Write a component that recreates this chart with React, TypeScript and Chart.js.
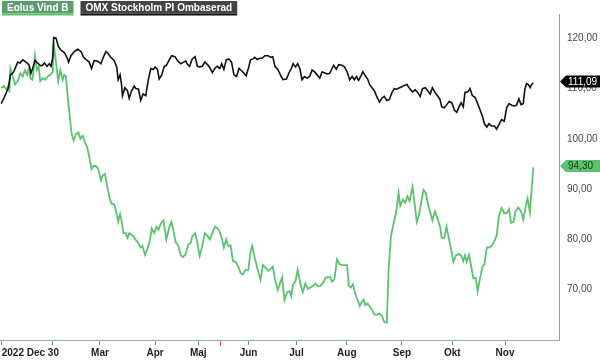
import React, { useEffect, useRef } from "react";
import { Chart, registerables } from "chart.js";

Chart.register(...registerables);

// ---- Data (x = trading-day index counted from 2022-12-30) ----
const seriesNames = ["Eolus Vind B", "OMX Stockholm PI Ombaserad"];

const monthTickDays = [1, 22, 42, 65, 83, 104, 124, 145, 168, 189, 211];
const monthTickLabels = ["2022 Dec 30", "", "Mar", "Apr", "Maj", "Jun", "Jul", "Aug", "Sep", "Okt", "Nov"];
const eventDays = [92.1];
const yTickValues = [70, 80, 90, 100, 110, 120];

const omxDays = [
  0.8, 2.1, 3.8, 4.6, 5.6, 6.3, 7.7, 8.7, 9.8, 10.7, 11.9, 12.5, 13.2, 13.9, 14.9, 16.0, 17.1, 18.1, 18.8, 19.9,
  20.9, 21.6, 22.3, 22.7, 23.7, 24.6, 25.7, 27.1, 28.2, 28.9, 29.9, 31.3, 32.7, 34.1, 35.2, 36.6, 37.5, 38.5, 39.6, 41.0,
  42.4, 43.4, 44.5, 45.4, 46.5, 47.9, 49.0, 49.6, 50.4, 51.0, 51.4, 52.4, 53.5, 54.2, 55.2, 56.3, 57.0, 58.1, 59.0, 60.0,
  61.1, 62.2, 63.2, 64.2, 65.0, 66.0, 66.7, 67.8, 68.8, 69.7, 70.8, 71.9, 73.3, 74.3, 75.7, 76.7, 77.8, 78.5, 79.4, 80.5,
  81.7, 82.6, 83.6, 84.7, 85.8, 86.8, 87.8, 88.9, 89.9, 90.9, 92.0, 92.8, 93.7, 94.7, 95.8, 96.9, 97.9, 99.0, 100.0, 101.1,
  102.1, 103.0, 104.1, 104.8, 105.8, 106.6, 107.6, 108.6, 109.7, 110.8, 112.2, 113.2, 114.1, 115.0, 116.2, 117.6, 118.4, 119.8, 120.8, 121.8,
  122.6, 123.6, 124.5, 125.4, 126.3, 127.3, 128.4, 129.5, 130.5, 131.5, 132.6, 133.7, 134.7, 135.6, 136.8, 137.9, 138.8, 139.5, 140.6, 141.6,
  143.0, 144.0, 145.1, 146.2, 147.2, 148.1, 149.0, 149.9, 150.9, 151.7, 152.7, 153.7, 154.5, 155.5, 156.5, 157.6, 158.7, 159.6, 160.6, 161.7,
  162.8, 163.8, 164.8, 165.9, 167.0, 168.0, 168.9, 170.1, 171.2, 172.4, 173.5, 174.6, 175.6, 176.6, 177.7, 178.8, 179.8, 180.7, 181.8, 183.0,
  183.9, 184.6, 185.7, 186.7, 187.7, 188.8, 189.9, 190.9, 191.8, 192.7, 193.6, 194.3, 195.5, 196.4, 197.4, 198.5, 199.6, 200.6, 201.6, 202.4,
  203.4, 204.3, 205.4, 206.6, 207.5, 208.5, 209.6, 210.7, 211.7, 212.7, 213.8, 214.9, 215.8, 216.8, 217.7, 218.6, 219.3, 220.0, 220.7, 221.5,
  222.1, 222.8,
];
const omxValues = [
  106.98, 108.25, 110.16, 112.7, 113.02, 113.65, 115.24, 115.05, 115.68, 115.37, 114.92, 114.6, 113.02, 113.97, 115.56, 115.05, 114.54, 114.6, 115.05, 114.41,
  114.92, 114.41, 116.19, 120.13, 120.0, 118.42, 117.59, 117.15, 116.19, 115.24, 116.51, 117.34, 117.78, 117.34, 116.19, 115.56, 115.24, 113.97, 115.56, 115.43,
  114.92, 116.19, 117.34, 116.95, 116.19, 115.56, 114.29, 111.74, 112.7, 110.79, 108.57, 110.16, 109.52, 108.06, 109.52, 110.47, 109.97, 109.84, 107.62, 108.89,
  108.57, 111.74, 113.97, 113.78, 114.29, 113.78, 111.87, 112.7, 114.41, 114.6, 115.56, 116.51, 116.32, 115.56, 114.92, 115.18, 115.43, 114.79, 114.41, 115.87,
  116.32, 114.41, 114.29, 114.41, 115.24, 114.79, 114.16, 113.14, 113.97, 114.41, 113.97, 114.92, 113.78, 115.68, 115.87, 115.24, 112.7, 112.38, 113.97, 113.52,
  113.02, 112.51, 114.29, 115.68, 115.87, 116.19, 115.75, 116.0, 116.0, 116.51, 116.51, 116.19, 116.32, 114.41, 113.78, 112.38, 111.74, 111.87, 113.02, 113.97,
  114.92, 114.29, 114.92, 113.97, 111.74, 112.38, 112.06, 112.38, 113.65, 113.33, 112.7, 112.06, 113.33, 113.14, 112.89, 113.02, 113.97, 114.6, 113.84, 114.73,
  114.6, 114.29, 113.33, 111.74, 112.38, 111.74, 112.38, 111.62, 112.51, 113.33, 112.51, 111.87, 110.79, 110.16, 109.52, 108.25, 107.3, 108.06, 108.44, 107.62,
  107.81, 109.2, 109.97, 109.84, 110.16, 110.35, 110.6, 110.79, 109.97, 109.33, 109.71, 109.2, 108.44, 109.97, 110.16, 109.52, 108.89, 110.16, 109.2, 108.44,
  107.81, 106.34, 106.15, 106.79, 107.42, 107.17, 105.71, 105.26, 106.34, 107.17, 106.34, 109.2, 109.33, 109.97, 108.57, 108.25, 106.98, 105.71, 104.44, 102.98,
  102.34, 102.98, 102.53, 102.53, 101.9, 102.85, 103.8, 103.48, 106.15, 106.98, 106.66, 106.53, 106.66, 107.93, 106.79, 106.98, 109.84, 110.98, 110.79, 110.16,
  110.79, 111.09,
];

const eolusDays = [
  0.8, 1.9, 2.8, 3.8, 4.2, 4.6, 5.6, 6.6, 7.7, 8.8, 9.8, 10.7, 11.6, 12.3, 13.0, 13.7, 14.2, 14.9, 15.7, 16.4,
  17.1, 18.1, 19.1, 20.2, 21.3, 22.3, 22.7, 23.7, 24.6, 25.5, 26.4, 27.1, 27.8, 28.5, 29.2, 30.2, 31.0, 32.0, 33.0, 33.8,
  34.8, 35.7, 36.6, 37.5, 38.5, 39.3, 40.3, 41.3, 42.4, 43.1, 44.1, 44.9, 45.9, 46.8, 47.9, 49.0, 49.6, 50.4, 51.0, 51.8,
  52.8, 53.5, 54.2, 55.2, 56.0, 57.0, 57.9, 59.0, 59.7, 60.8, 61.8, 62.8, 63.6, 64.6, 65.6, 66.4, 67.4, 68.5, 69.7, 70.8,
  71.8, 72.6, 73.6, 74.7, 75.7, 76.7, 77.8, 78.9, 79.9, 80.5, 81.7, 82.6, 83.6, 84.7, 85.8, 86.8, 87.8, 88.9, 90.0, 91.0,
  91.9, 92.8, 93.7, 94.7, 95.5, 96.5, 97.5, 98.6, 99.7, 100.7, 101.6, 102.7, 103.9, 104.8, 105.5, 106.6, 108.0, 109.0, 110.0, 111.1,
  112.2, 113.2, 114.1, 115.0, 116.2, 117.0, 118.0, 119.0, 120.1, 121.1, 121.8, 122.6, 123.6, 124.5, 125.6, 126.6, 127.7, 128.7, 129.8, 130.9,
  131.9, 132.9, 134.0, 135.1, 136.1, 137.0, 138.1, 138.8, 139.8, 140.9, 142.0, 143.0, 144.0, 145.1, 145.8, 146.7, 147.6, 148.5, 149.5, 150.4,
  151.3, 152.0, 152.7, 153.7, 154.5, 155.5, 156.5, 157.6, 158.7, 159.6, 160.6, 161.7, 162.4, 163.4, 164.5, 165.6, 166.6, 167.3, 168.4, 169.4,
  170.3, 171.2, 172.4, 173.2, 174.2, 175.2, 176.0, 177.0, 178.0, 178.8, 179.8, 180.7, 181.8, 183.0, 183.9, 184.6, 185.7, 186.6, 187.4, 188.5,
  189.5, 190.5, 191.6, 192.7, 193.6, 194.3, 195.0, 196.0, 196.8, 197.8, 198.8, 199.6, 200.6, 201.6, 202.4, 203.4, 204.3, 205.4, 206.6, 207.5,
  208.5, 209.6, 210.7, 211.7, 212.7, 213.5, 214.5, 215.4, 216.5, 217.7, 218.6, 219.6, 220.4, 221.4, 222.8,
];
const eolusValues = [
  110.16, 110.47, 109.84, 110.47, 109.2, 113.97, 112.38, 110.79, 111.43, 113.02, 112.38, 113.65, 112.7, 113.97, 112.06, 111.74, 113.02, 116.51, 113.65, 114.29,
  111.43, 112.06, 111.74, 112.38, 112.7, 113.33, 119.05, 114.92, 111.43, 113.65, 111.74, 112.7, 112.38, 108.57, 105.39, 100.94, 99.67, 100.94, 101.26, 99.99,
  100.63, 99.36, 98.4, 96.5, 93.96, 94.59, 94.59, 93.96, 91.73, 92.69, 93.0, 90.78, 88.56, 87.09, 86.97, 85.06, 83.47, 85.06, 83.79, 81.25,
  81.25, 80.3, 81.25, 80.93, 80.61, 79.85, 79.34, 78.39, 78.71, 76.93, 78.07, 79.69, 82.2, 81.25, 82.52, 81.88, 83.16, 83.79, 79.98, 82.2,
  83.47, 81.88, 79.47, 78.71, 76.8, 76.48, 77.12, 79.03, 79.34, 80.61, 81.25, 79.34, 76.68, 78.71, 81.25, 80.74, 79.98, 81.25, 82.52, 82.2,
  81.57, 80.3, 78.39, 79.98, 78.71, 78.83, 75.66, 75.53, 74.58, 73.31, 72.99, 73.94, 73.94, 77.44, 78.71, 76.29, 73.63, 72.04, 74.9, 74.39,
  73.75, 74.13, 74.58, 72.04, 69.94, 71.08, 72.48, 67.91, 69.5, 69.69, 68.67, 71.08, 71.72, 73.94, 71.21, 69.5, 71.21, 70.13, 70.45, 70.77,
  71.21, 70.7, 70.77, 71.4, 72.35, 72.48, 72.48, 71.59, 72.04, 76.04, 75.09, 74.9, 74.9, 74.9, 70.77, 70.45, 71.08, 69.18, 67.91, 66.76,
  67.59, 68.03, 66.95, 67.27, 66.64, 66.0, 65.05, 65.05, 65.24, 64.86, 63.59, 63.46, 73.63, 80.61, 83.16, 85.38, 89.19, 86.65, 87.92, 87.28,
  88.56, 87.6, 90.46, 87.47, 83.47, 85.06, 87.28, 89.83, 89.19, 87.09, 85.38, 83.79, 85.57, 83.92, 82.52, 80.3, 80.3, 82.52, 80.61, 78.07,
  75.53, 76.8, 77.12, 76.8, 75.66, 76.8, 75.53, 76.93, 74.9, 72.23, 72.35, 69.69, 72.35, 74.58, 75.02, 78.39, 78.39, 78.71, 79.66, 80.74,
  84.74, 86.2, 85.19, 85.19, 86.01, 83.28, 83.47, 85.57, 86.33, 85.57, 83.92, 86.46, 88.11, 85.38, 94.3,
];

// ---- Styling ----
const FONT = "Arial, 'Liberation Sans', sans-serif";
const OMX_COLOR = "#111111";
const EOLUS_COLOR = "#5cc26e";

const fmt = (v: number) => v.toFixed(2).replace(".", ",");

const overlayPlugin = {
  id: "overlay",
  afterDraw(chart: any) {
    const ctx = chart.ctx;
    const xs = chart.scales.x;
    const ys = chart.scales.y;
    const area = chart.chartArea;
    ctx.save();

    // month labels
    ctx.font = `bold 10px ${FONT}`;
    ctx.fillStyle = "#1e1e1e";
    ctx.textBaseline = "middle";
    monthTickDays.forEach((d, i) => {
      const lbl = monthTickLabels[i];
      if (!lbl) return;
      const px = xs.getPixelForValue(d);
      ctx.textAlign = i === 0 ? "left" : "center";
      ctx.fillText(lbl, px, area.bottom + 13);
    });

    // event marker on axis
    ctx.strokeStyle = "#e8474a";
    ctx.lineWidth = 1;
    eventDays.forEach((d) => {
      const px = Math.round(xs.getPixelForValue(d)) + 0.5;
      ctx.beginPath();
      ctx.moveTo(px, area.bottom + 1);
      ctx.lineTo(px, area.bottom + 6);
      ctx.stroke();
    });

    // legend boxes
    ctx.textAlign = "left";
    ctx.font = `bold 10px ${FONT}`;
    const drawLegend = (label: string, x: number, bg: string, line: string) => {
      const w = ctx.measureText(label).width + 10;
      ctx.fillStyle = bg;
      ctx.fillRect(x, 1, w, 12.5);
      ctx.fillStyle = line;
      ctx.fillRect(x, 13.5, w, 2);
      ctx.fillStyle = "#ffffff";
      ctx.fillText(label, x + 5, 8);
      return x + w;
    };
    const end1 = drawLegend(seriesNames[0], 2, "#5c9d6d", EOLUS_COLOR);
    drawLegend(seriesNames[1], end1 + 7, "#444444", "#111111");

    // last value tags
    ctx.font = `10px ${FONT}`;
    const drawTag = (val: number, bg: string, fg: string) => {
      const y = ys.getPixelForValue(val) - 1.5;
      const x0 = area.right + 1;
      ctx.fillStyle = bg;
      ctx.beginPath();
      ctx.moveTo(x0, y);
      ctx.lineTo(x0 + 6, y - 6);
      ctx.lineTo(chart.width, y - 6);
      ctx.lineTo(chart.width, y + 6);
      ctx.lineTo(x0 + 6, y + 6);
      ctx.closePath();
      ctx.fill();
      ctx.fillStyle = fg;
      ctx.textAlign = "left";
      ctx.fillText(fmt(val), x0 + 8, y + 0.5);
    };
    drawTag(omxValues[omxValues.length - 1], "#000000", "#ffffff");
    drawTag(eolusValues[eolusValues.length - 1], EOLUS_COLOR, "#173d1c");

    ctx.restore();
  },
};

export default function App() {
  const canvasRef = useRef<HTMLCanvasElement | null>(null);

  useEffect(() => {
    const canvas = canvasRef.current;
    if (!canvas) return;
    const chart = new Chart(canvas, {
      type: "line",
      data: {
        datasets: [
          {
            label: seriesNames[1],
            data: omxDays.map((d, i) => ({ x: d, y: omxValues[i] })),
            borderColor: OMX_COLOR,
            borderWidth: 1.6,
            pointRadius: 0,
            tension: 0,
          },
          {
            label: seriesNames[0],
            data: eolusDays.map((d, i) => ({ x: d, y: eolusValues[i] })),
            borderColor: EOLUS_COLOR,
            borderWidth: 1.8,
            pointRadius: 0,
            tension: 0,
          },
        ],
      },
      options: {
        animation: false,
        responsive: false,
        devicePixelRatio: 1,
        layout: { padding: 0 },
        plugins: { legend: { display: false }, tooltip: { enabled: false } },
        scales: {
          x: {
            type: "linear",
            min: 0.29,
            max: 233.53,
            afterBuildTicks: (s: any) => {
              s.ticks = monthTickDays.map((v) => ({ value: v }));
            },
            afterFit: (s: any) => {
              s.height = 20;
              s.paddingLeft = 0;
              s.paddingRight = 0;
            },
            grid: {
              display: true,
              drawOnChartArea: false,
              drawTicks: true,
              tickLength: 5,
              color: "#5b8cb2",
            },
            border: { display: true, color: "#8db0c9", width: 1 },
            ticks: { display: false },
          },
          y: {
            position: "right",
            min: 60,
            max: 124.8,
            afterBuildTicks: (s: any) => {
              s.ticks = yTickValues.map((v) => ({ value: v }));
            },
            afterFit: (s: any) => {
              s.width = 41;
            },
            grid: { display: false, drawTicks: false, tickLength: 0 },
            border: { display: true, color: "#7ea6c3", width: 1 },
            ticks: {
              padding: 8,
              color: "#4a4458",
              font: { family: FONT, size: 10 },
              callback: (v: any) => fmt(Number(v)),
            },
          },
        },
      },
      plugins: [overlayPlugin],
    });
    return () => chart.destroy();
  }, []);

  return (
    <div style={{ position: "absolute", left: 0, top: 0, width: 600, height: 360, background: "#ffffff" }}>
      <canvas ref={canvasRef} width={600} height={360} style={{ display: "block" }} />
    </div>
  );
}
